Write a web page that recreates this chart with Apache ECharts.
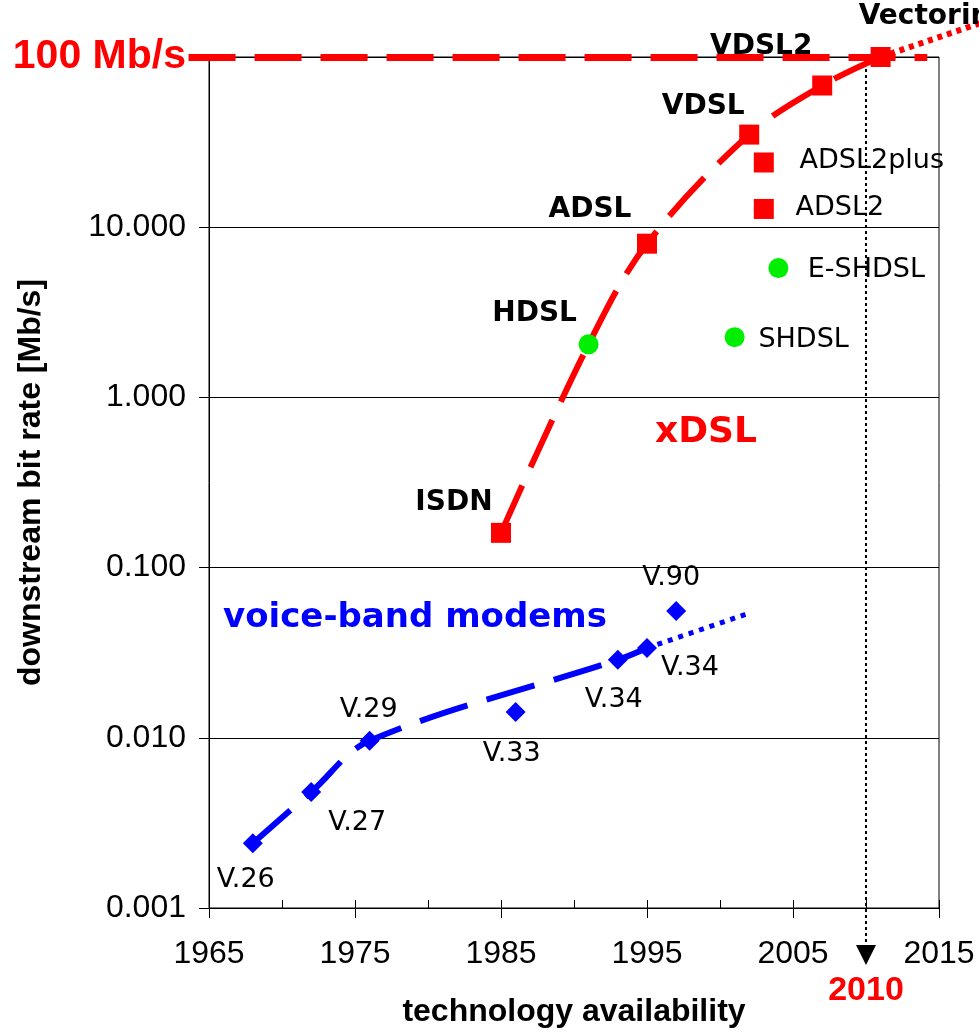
<!DOCTYPE html>
<html>
<head>
<meta charset="utf-8">
<script src="https://cdn.jsdelivr.net/npm/echarts@6/dist/echarts.min.js"></script>
<style>
  html, body { margin: 0; padding: 0; background: #ffffff; }
  #chart { width: 979px; height: 1032px; }
</style>
</head>
<body>
<div id="chart"></div>
<script>
// Axis ranges and tick marks
const yearMin = 1965;
const yearMax = 2015;
const labelledYears = [1965, 1975, 1985, 1995, 2005, 2015];
const rateMin = 0.001;
const rateMax = 100;

// xDSL generations along the main trend (Mb/s)
const milestoneNames = ['ISDN', 'HDSL', 'ADSL', 'VDSL', 'VDSL2', 'Vectoring'];
const milestoneYears = [1985, 1991, 1995, 2002, 2007, 2011];
const milestoneRates = [0.16, 2.05, 8, 35, 68, 100];

// further DSL variants
const variantNames = ['ADSL2plus', 'ADSL2', 'E-SHDSL', 'SHDSL'];
const variantYears = [2003, 2003, 2004, 2001];
const variantRates = [24, 12.8, 5.75, 2.26];

// symmetric DSL flavours get round markers
const symmetricNames = ['HDSL', 'SHDSL', 'E-SHDSL'];

// voice-band modems
const modemNames = ['V.26', 'V.27', 'V.29', 'V.33', 'V.34', 'V.34', 'V.90'];
const modemYears = [1968, 1972, 1976, 1986, 1993, 1995, 1997];
const modemRates = [0.0024, 0.0048, 0.0096, 0.0142, 0.0287, 0.0337, 0.0556];

// modem trend and its outlook
const modemTrendYears = [1968, 1972, 1976, 1993, 1995];
const modemTrendRates = [0.0024, 0.0048, 0.0096, 0.0287, 0.0337];
const modemOutlookYears = [1995, 2002];
const modemOutlookRates = [0.0337, 0.054];

// xDSL outlook beyond 100 Mb/s
const dslOutlookYears = [2011, 2018];
const dslOutlookRates = [100, 160];

// 100 Mb/s target line
const targetRate = 100;
const targetYears = [1963.6, 2014.2];

// 2010 marker
const milestoneYear = 2010;
const arrowFloorRate = 0.00053;

// label placement (offset of the text centre from the marker centre, px)
const milestoneLabelOffsets = [[-47, -30], [-54, -31], [-57, -34], [-46, -28], [-61, -39], [54, -40]];
const variantLabelOffsets = [[108, -2], [76, -1], [88, 2], [69, 3]];
const modemLabelOffsets = [[-7, 37], [46, 31], [-1, -31], [-4, 42], [-4, 40], [43, 20], [-5, -33]];

const RED = '#ff0000';
const BLUE = '#0000ff';
const GREEN = '#00ee00';

function pairs(xs, ys) {
  return xs.map(function (x, i) { return [x, ys[i]]; });
}

function markerFor(name) {
  const round = symmetricNames.indexOf(name) >= 0;
  return {
    symbol: round ? 'circle' : 'rect',
    color: round ? GREEN : RED
  };
}

const milestoneData = milestoneNames.map(function (name, i) {
  const m = markerFor(name);
  return {
    name: name,
    value: [milestoneYears[i], milestoneRates[i]],
    symbol: m.symbol,
    itemStyle: { color: m.color, opacity: 1 },
    label: { offset: milestoneLabelOffsets[i] }
  };
});

const variantData = variantNames.map(function (name, i) {
  const m = markerFor(name);
  return {
    name: name,
    value: [variantYears[i], variantRates[i]],
    symbol: m.symbol,
    itemStyle: { color: m.color, opacity: 1 },
    label: { offset: variantLabelOffsets[i] }
  };
});

const modemData = modemNames.map(function (name, i) {
  return {
    name: name,
    value: [modemYears[i], modemRates[i]],
    label: { offset: modemLabelOffsets[i] }
  };
});

const chart = echarts.init(document.getElementById('chart'), null, { renderer: 'canvas' });

chart.setOption({
  backgroundColor: '#ffffff',
  animation: false,
  grid: {
    left: 209, right: 40, top: 57, bottom: 124,
    show: true, borderColor: '#000000', borderWidth: 1,
    outerBoundsMode: 'none'
  },
  xAxis: [
    {
      type: 'value',
      min: yearMin, max: yearMax, interval: 5,
      name: 'technology availability',
      nameLocation: 'middle',
      nameGap: 88,
      nameMoveOverlap: false,
      nameTextStyle: { fontFamily: 'Liberation Sans', fontWeight: 'bold', fontSize: 32, color: '#000000' },
      axisLine: { show: true, lineStyle: { color: '#000000', width: 1 } },
      axisTick: { show: true, inside: true, length: 8, lineStyle: { color: '#000000' } },
      axisLabel: {
        margin: 30,
        fontFamily: 'Liberation Sans', fontSize: 32, color: '#000000',
        formatter: function (v) {
          return labelledYears.indexOf(Math.round(v)) >= 0 ? String(Math.round(v)) : '';
        }
      },
      splitLine: { show: false }
    },
    {
      type: 'value',
      gridIndex: 0,
      position: 'bottom',
      min: yearMin, max: yearMax,
      axisLine: { show: false },
      axisTick: { show: true, inside: false, length: 10, customValues: labelledYears, lineStyle: { color: '#000000' } },
      axisLabel: { show: false, customValues: labelledYears },
      splitLine: { show: false }
    }
  ],
  yAxis: {
    type: 'log',
    logBase: 10,
    min: rateMin, max: rateMax,
    name: 'downstream bit rate [Mb/s]',
    nameLocation: 'middle',
    nameGap: 162,
    nameMoveOverlap: false,
    nameTextStyle: { fontFamily: 'Liberation Sans', fontWeight: 'bold', fontSize: 32, color: '#000000' },
    axisLine: { show: true, lineStyle: { color: '#000000', width: 1 } },
    axisTick: { show: true, inside: false, length: 10, lineStyle: { color: '#000000' } },
    axisLabel: {
      margin: 23,
      fontFamily: 'Liberation Sans', fontSize: 32, color: '#000000',
      formatter: function (v) {
        if (Math.abs(v - targetRate) < 1e-6) return '{cap|' + targetRate + ' Mb/s}';
        return v.toFixed(3);
      },
      rich: {
        cap: { fontFamily: 'Liberation Sans', fontWeight: 'bold', fontSize: 41, color: RED }
      }
    },
    splitLine: { show: true, lineStyle: { color: '#000000', width: 1 } }
  },
  series: [
    {
      name: '100 Mb/s',
      type: 'lines',
      coordinateSystem: 'cartesian2d',
      data: [{ coords: targetYears.map(function (x) { return [x, targetRate]; }) }],
      symbol: 'none',
      clip: false,
      silent: true,
      z: 3,
      lineStyle: { color: RED, width: 7, type: [47, 19], opacity: 1, curveness: 0 }
    },
    {
      name: 'milestone',
      type: 'lines',
      coordinateSystem: 'cartesian2d',
      data: [{ coords: [[milestoneYear, targetRate], [milestoneYear, arrowFloorRate]] }],
      symbol: ['none', 'triangle'],
      symbolSize: 20,
      clip: false,
      silent: true,
      z: 2,
      lineStyle: { color: '#000000', width: 2, type: [3, 3], opacity: 1, curveness: 0 },
      label: {
        show: true, position: 'end', distance: 19,
        formatter: String(milestoneYear),
        fontFamily: 'Liberation Sans', fontWeight: 'bold', fontSize: 34, color: RED
      }
    },
    {
      name: 'xDSL trend',
      type: 'line',
      data: pairs(milestoneYears, milestoneRates),
      smooth: 0.35,
      symbol: 'none',
      z: 4,
      lineStyle: { color: RED, width: 6, type: [52, 20], cap: 'butt' }
    },
    {
      name: 'xDSL outlook',
      type: 'lines',
      coordinateSystem: 'cartesian2d',
      data: [{ coords: pairs(dslOutlookYears, dslOutlookRates) }],
      symbol: 'none',
      clip: false,
      silent: true,
      z: 4,
      lineStyle: { color: RED, width: 6, type: [5, 5], opacity: 1, curveness: 0 }
    },
    {
      name: 'modem trend',
      type: 'line',
      data: pairs(modemTrendYears, modemTrendRates),
      smooth: 0.35,
      symbol: 'none',
      z: 4,
      lineStyle: { color: BLUE, width: 6, type: [50, 20], cap: 'butt' }
    },
    {
      name: 'modem outlook',
      type: 'line',
      data: pairs(modemOutlookYears, modemOutlookRates),
      symbol: 'none',
      clip: false,
      z: 4,
      lineStyle: { color: BLUE, width: 5, type: [5, 6], cap: 'butt' }
    },
    {
      name: 'xDSL generations',
      type: 'scatter',
      data: milestoneData,
      symbolSize: 20,
      clip: false,
      z: 6,
      itemStyle: { opacity: 1 },
      label: {
        show: true, position: 'inside', opacity: 1,
        formatter: '{b}',
        fontFamily: 'DejaVu Sans', fontWeight: 'bold', fontSize: 28, color: '#000000'
      }
    },
    {
      name: 'DSL variants',
      type: 'scatter',
      data: variantData,
      symbolSize: 20,
      z: 6,
      itemStyle: { opacity: 1 },
      label: {
        show: true, position: 'inside', opacity: 1,
        formatter: '{b}',
        fontFamily: 'DejaVu Sans', fontSize: 27, color: '#000000'
      }
    },
    {
      name: 'voice-band modems',
      type: 'scatter',
      data: modemData,
      symbol: 'diamond',
      symbolSize: 20,
      itemStyle: { color: BLUE, opacity: 1 },
      z: 6,
      label: {
        show: true, position: 'inside', opacity: 1,
        formatter: '{b}',
        fontFamily: 'DejaVu Sans', fontSize: 27, color: '#000000'
      }
    }
  ],
  graphic: [
    {
      type: 'text', x: 706, y: 433, z: 10,
      style: {
        text: 'xDSL', fill: RED,
        font: 'bold 36px "DejaVu Sans"',
        align: 'center', verticalAlign: 'middle',
        textAlign: 'center', textVerticalAlign: 'middle'
      }
    },
    {
      type: 'text', x: 415, y: 618, z: 10,
      style: {
        text: 'voice-band modems', fill: BLUE,
        font: 'bold 34px "DejaVu Sans"',
        align: 'center', verticalAlign: 'middle',
        textAlign: 'center', textVerticalAlign: 'middle'
      }
    }
  ]
});
</script>
</body>
</html>
